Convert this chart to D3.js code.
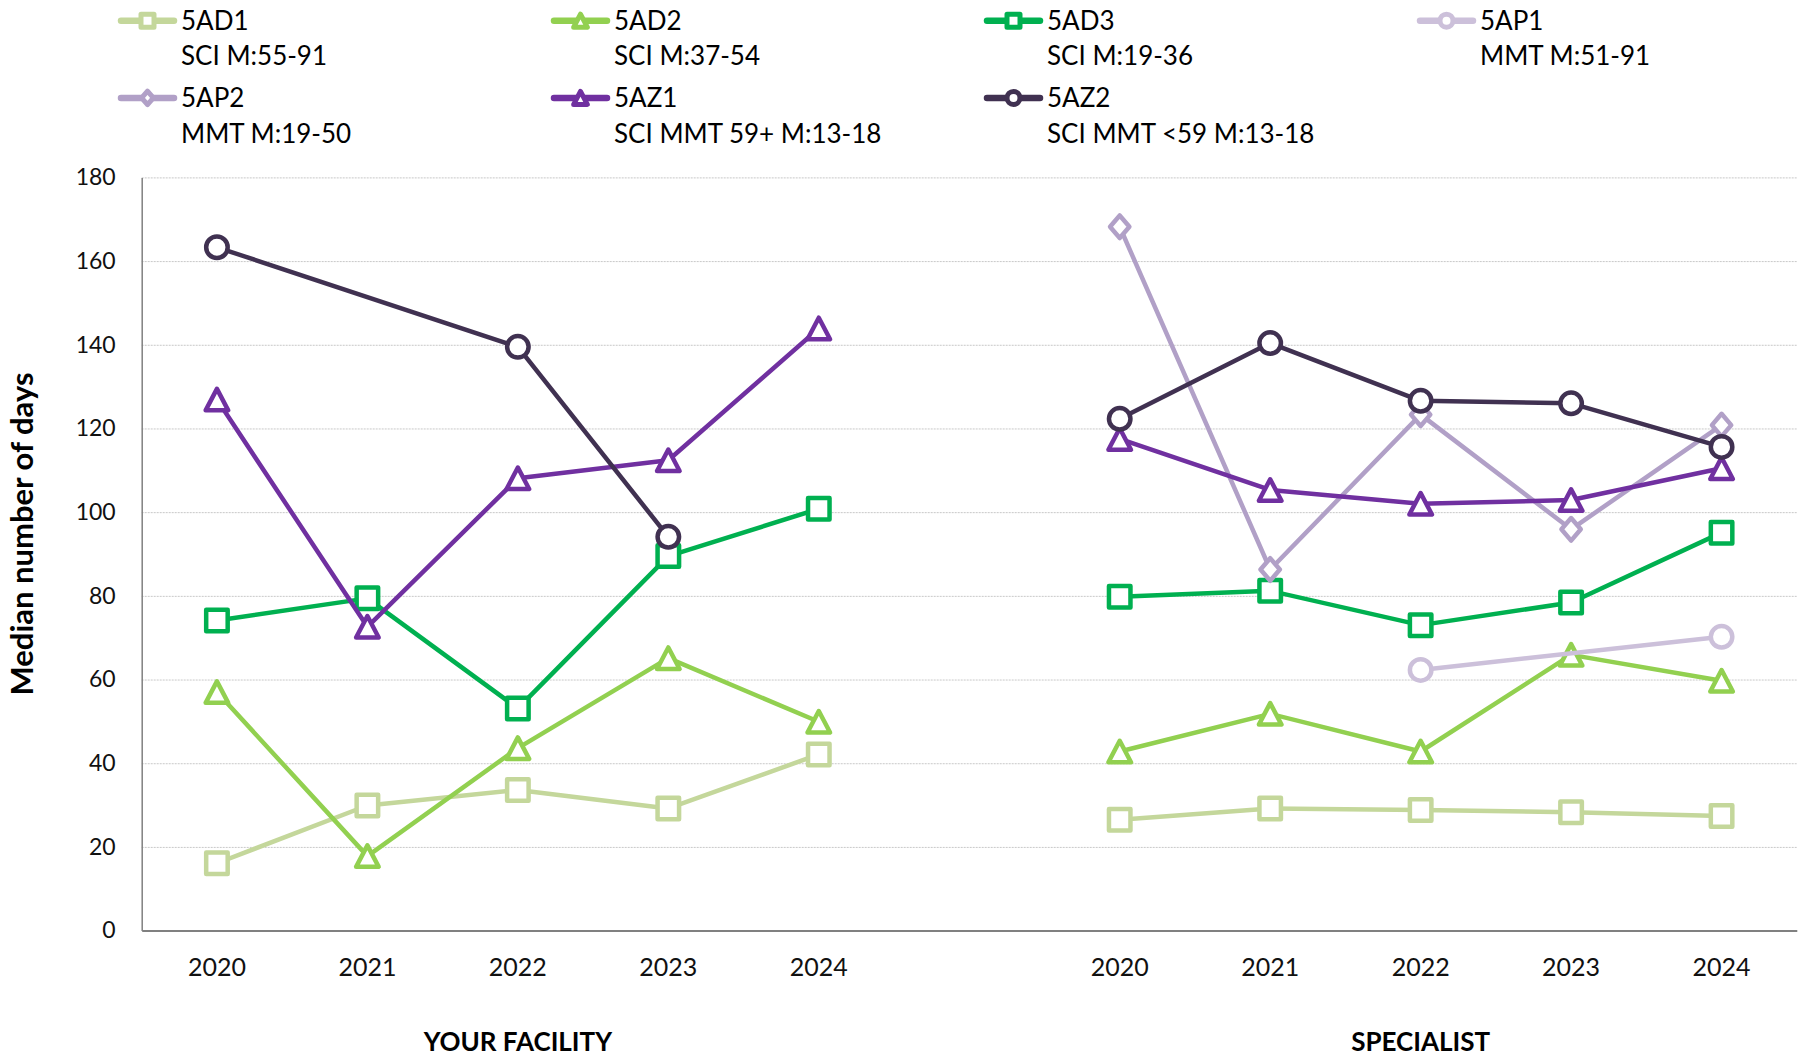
<!DOCTYPE html>
<html>
<head>
<meta charset="utf-8">
<script src="https://cdn.jsdelivr.net/npm/d3@7"></script>
<style>
  html, body { margin: 0; padding: 0; background: #fff; }
  svg { display: block; font-family: Lato, "Open Sans", sans-serif; }
</style>
</head>
<body>
<svg id="chart" width="1806" height="1060"></svg>
<script>
// ---- data ----
const years = ["2020", "2021", "2022", "2023", "2024"];
const panels = ["YOUR FACILITY", "SPECIALIST"];
const yTicks = [0, 20, 40, 60, 80, 100, 120, 140, 160, 180];

const seriesNames = ["5AD1", "5AD2", "5AD3", "5AP1", "5AP2", "5AZ1", "5AZ2"];
const seriesSubtitles = ["SCI M:55-91", "SCI M:37-54", "SCI M:19-36", "MMT M:51-91",
                         "MMT M:19-50", "SCI MMT 59+ M:13-18", "SCI MMT <59 M:13-18"];
const seriesColors = ["#c4d79b", "#92d050", "#00b050", "#ccc0da", "#b1a0c7", "#7030a0", "#403151"];
const seriesShapes = ["square", "triangle", "square", "circle", "diamond", "triangle", "circle"];

// median days per year: [YOUR FACILITY, SPECIALIST]
const ad1Facility = [16.1, 29.9, 33.6, 29.2, 42.1];
const ad1Specialist = [26.5, 29.2, 28.8, 28.3, 27.4];
const ad2Facility = [57.0, 17.8, 43.6, 65.1, 49.9];
const ad2Specialist = [42.8, 51.8, 42.8, 65.9, 59.7];
const ad3Facility = [74.1, 79.4, 53.1, 89.5, 100.8];
const ad3Specialist = [79.8, 81.2, 73.0, 78.4, 95.1];
const ap1Facility = [null, null, null, null, null];
const ap1Specialist = [null, null, 62.3, null, 70.2];
const ap2Facility = [null, null, null, null, null];
const ap2Specialist = [168.2, 86.3, 123.3, 95.9, 120.8];
const az1Facility = [126.9, 72.6, 108.1, 112.4, 143.9];
const az1Specialist = [117.5, 105.3, 102.0, 102.9, 110.5];
const az2Facility = [163.3, null, 139.5, 94.1, null];
const az2Specialist = [122.3, 140.4, 126.6, 126.0, 115.6];

const seriesValues = [
  [ad1Facility, ad1Specialist],
  [ad2Facility, ad2Specialist],
  [ad3Facility, ad3Specialist],
  [ap1Facility, ap1Specialist],
  [ap2Facility, ap2Specialist],
  [az1Facility, az1Specialist],
  [az2Facility, az2Specialist]
];

// ---- layout ----
const svg = d3.select("#chart");
const plot = { left: 141.7, right: 1796.8, top: 177.4, bottom: 930.6 };

// one band per year per panel, with an empty band between the panels
const slots = [];
panels.forEach((p, pi) => {
  years.forEach(yr => slots.push(pi + "|" + yr));
  if (pi < panels.length - 1) slots.push("gap" + pi);
});

const x = d3.scaleBand().domain(slots).range([plot.left, plot.right]).padding(0);
const xc = key => x(key) + x.bandwidth() / 2;
const y = d3.scaleLinear().domain([0, 180]).range([plot.bottom, plot.top]);

// gridlines
svg.append("g")
  .attr("transform", `translate(${plot.left},0)`)
  .call(d3.axisLeft(y).tickValues(yTicks.filter(v => v > 0)).tickSize(-(plot.right - plot.left)).tickFormat(""))
  .call(g => g.select(".domain").remove())
  .call(g => g.selectAll(".tick line")
    .attr("stroke", "#c8c8c8").attr("stroke-width", 1).attr("stroke-dasharray", "2,1"));

// y axis
svg.append("g")
  .attr("transform", `translate(${plot.left},0)`)
  .call(d3.axisLeft(y).tickValues(yTicks).tickSize(0).tickPadding(26).tickSizeOuter(0))
  .call(g => g.select(".domain").attr("stroke", "#808080").attr("stroke-width", 1.5))
  .call(g => g.selectAll(".tick text")
    .attr("font-size", 23).attr("fill", "#111").attr("font-family", "Lato, sans-serif"));

// x axis
svg.append("g")
  .attr("transform", `translate(0,${plot.bottom})`)
  .call(d3.axisBottom(x).tickSize(0).tickSizeOuter(0).tickPadding(28)
    .tickFormat(k => k.startsWith("gap") ? "" : k.split("|")[1]))
  .call(g => g.select(".domain").attr("stroke", "#808080").attr("stroke-width", 2))
  .call(g => g.selectAll(".tick text")
    .attr("font-size", 25).attr("fill", "#111").attr("font-family", "Lato, sans-serif"));

// panel labels under the middle year
panels.forEach((p, pi) => {
  svg.append("text")
    .attr("x", xc(pi + "|" + years[2]))
    .attr("y", 1042)
    .attr("dy", "0.35em")
    .attr("text-anchor", "middle")
    .attr("font-size", 26)
    .attr("font-weight", "bold")
    .attr("fill", "#000")
    .text(p);
});

// y title
svg.append("text")
  .attr("transform", `translate(22,534) rotate(-90)`)
  .attr("text-anchor", "middle")
  .attr("dy", "0.35em")
  .attr("font-size", 31)
  .attr("font-weight", "bold")
  .attr("fill", "#000")
  .text("Median number of days");

// ---- marker shapes ----
function markerPath(shape, s) {
  const h = s / 2;
  switch (shape) {
    case "square":   return `M${-h},${-h}H${h}V${h}H${-h}Z`;
    case "triangle": return `M0,${-h}L${h * 1.05},${h}H${-h * 1.05}Z`;
    case "diamond":  return `M0,${-h * 1.05}L${h * 0.9},0L0,${h * 1.05}L${-h * 0.9},0Z`;
    case "circle":   return `M${h},0A${h},${h} 0 1,1 ${-h},0A${h},${h} 0 1,1 ${h},0Z`;
  }
}

// ---- series ----
const line = d3.line().x(d => d.x).y(d => d.y);

seriesNames.forEach((name, si) => {
  const g = svg.append("g").attr("class", "series");
  const color = seriesColors[si];
  seriesValues[si].forEach((vals, pi) => {
    const pts = vals.map((v, i) => ({ v, x: xc(pi + "|" + years[i]) }))
      .filter(d => d.v !== null)
      .map(d => ({ x: d.x, y: y(d.v) }));
    if (!pts.length) return;
    g.append("path")
      .attr("d", line(pts))
      .attr("fill", "none")
      .attr("stroke", color)
      .attr("stroke-width", 4.5)
      .attr("stroke-linejoin", "round");
    g.selectAll(null).data(pts).enter().append("path")
      .attr("transform", d => `translate(${d.x},${d.y})`)
      .attr("d", markerPath(seriesShapes[si], 21.5))
      .attr("fill", "#fff")
      .attr("stroke", color)
      .attr("stroke-width", 4.5)
      .attr("stroke-linejoin", "round");
  });
});

// ---- legend ----
const legendCols = 4, colStep = 433, legendX0 = 121;
const rowFirst = [20.7, 97.9], lineGap = 35.7;
seriesNames.forEach((name, si) => {
  const col = si % legendCols, row = Math.floor(si / legendCols);
  const gx = legendX0 + col * colStep, gy = rowFirst[row];
  const g = svg.append("g").attr("transform", `translate(${gx},${gy})`);
  g.append("line").attr("x1", 0).attr("x2", 53).attr("y1", 0).attr("y2", 0)
    .attr("stroke", seriesColors[si]).attr("stroke-width", 6.5).attr("stroke-linecap", "round");
  g.append("path").attr("transform", "translate(26.5,0)")
    .attr("d", markerPath(seriesShapes[si], 13))
    .attr("fill", "#fff").attr("stroke", seriesColors[si]).attr("stroke-width", 5)
    .attr("stroke-linejoin", "round");
  g.append("text").attr("x", 60).attr("y", 0).attr("dy", "0.35em")
    .attr("font-size", 26).attr("fill", "#000").text(name);
  g.append("text").attr("x", 60).attr("y", lineGap).attr("dy", "0.35em")
    .attr("font-size", 26).attr("fill", "#000").text(seriesSubtitles[si]);
});
</script>
</body>
</html>
